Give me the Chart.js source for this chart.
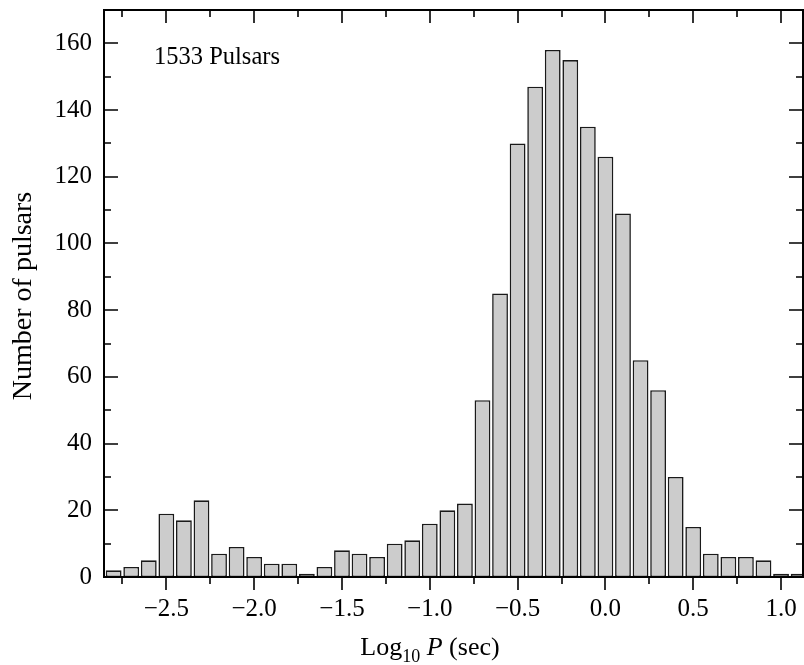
<!DOCTYPE html>
<html>
<head>
<meta charset="utf-8">
<script src="https://cdn.jsdelivr.net/npm/chart.js@4.4.0/dist/chart.umd.min.js"></script>
<style>
  body { margin: 0; background: #fff; }
  canvas { display: block; }
</style>
</head>
<body>
<canvas id="chart" width="804" height="665"></canvas>
<script>
// bin centres of log10 P (bin width 0.1) and the pulsar counts in each bin
const binCentres = [-2.8, -2.7, -2.6, -2.5, -2.4, -2.3, -2.2, -2.1, -2.0, -1.9,
    -1.8, -1.7, -1.6, -1.5, -1.4, -1.3, -1.2, -1.1, -1.0, -0.9,
    -0.8, -0.7, -0.6, -0.5, -0.4, -0.3, -0.2, -0.1, 0.0, 0.1,
    0.2, 0.3, 0.4, 0.5, 0.6, 0.7, 0.8, 0.9, 1.0, 1.1];
const counts = [2, 3, 5, 19, 17, 23, 7, 9, 6, 4,
    4, 1, 3, 8, 7, 6, 10, 11, 16, 20,
    22, 53, 85, 130, 147, 158, 155, 135, 126, 109,
    65, 56, 30, 15, 7, 6, 6, 5, 1, 1];

const xTicks = [-2.5, -2.0, -1.5, -1.0, -0.5, 0.0, 0.5, 1.0];
const xTickLabels = ["\u22122.5", "\u22122.0", "\u22121.5", "\u22121.0", "\u22120.5", "0.0", "0.5", "1.0"];
const xMinorTicks = [-2.75, -2.25, -1.75, -1.25, -0.75, -0.25, 0.25, 0.75];
const yTicks = [0, 20, 40, 60, 80, 100, 120, 140, 160];
const yMinorTicks = [10, 30, 50, 70, 90, 110, 130, 150];

const serif = '"Liberation Serif", "Times New Roman", serif';

// frame, ticks, axis titles and the label in the corner
const decorations = {
    id: "decorations",
    afterDraw(chart) {
        const { ctx, chartArea: a, scales: { x, y } } = chart;
        ctx.save();
        ctx.strokeStyle = "#000";
        ctx.lineWidth = 2;
        ctx.strokeRect(a.left, a.top, a.right - a.left, a.bottom - a.top);

        ctx.lineWidth = 1.6;
        ctx.beginPath();
        // bottom ticks point out of the frame, the others point in
        const xTick = (v, len) => {
            const px = Math.round(x.getPixelForValue(v));
            ctx.moveTo(px, a.bottom); ctx.lineTo(px, a.bottom + len);
            ctx.moveTo(px, a.top); ctx.lineTo(px, a.top + len);
        };
        const yTick = (v, len) => {
            const py = Math.round(y.getPixelForValue(v));
            ctx.moveTo(a.left, py); ctx.lineTo(a.left + len, py);
            ctx.moveTo(a.right, py); ctx.lineTo(a.right - len, py);
        };
        xTicks.forEach(v => xTick(v, 13));
        xMinorTicks.forEach(v => xTick(v, 7));
        yTicks.forEach(v => yTick(v, 14));
        yMinorTicks.forEach(v => yTick(v, 7));
        ctx.stroke();

        ctx.fillStyle = "#000";
        ctx.textBaseline = "middle";
        ctx.textAlign = "left";
        ctx.font = "24.5px " + serif;
        ctx.fillText("1533 Pulsars", x.getPixelForValue(-2.57), y.getPixelForValue(155.8));

        // y title
        ctx.save();
        ctx.translate(24, 296);
        ctx.rotate(-Math.PI / 2);
        ctx.textAlign = "center";
        ctx.font = "28px " + serif;
        ctx.fillText("Number of pulsars", 0, 0);
        ctx.restore();

        // x title: Log10 P (sec), with subscript and italic P
        ctx.textBaseline = "alphabetic";
        const parts = [
            { t: "Log", f: "26px " + serif, dy: 0 },
            { t: "10", f: "18px " + serif, dy: 7 },
            { t: " ", f: "26px " + serif, dy: 0 },
            { t: "P", f: "italic 26px " + serif, dy: 0 },
            { t: " (sec)", f: "26px " + serif, dy: 0 },
        ];
        let total = 0;
        parts.forEach(p => { ctx.font = p.f; p.w = ctx.measureText(p.t).width; total += p.w; });
        let cx = 430 - total / 2;
        parts.forEach(p => {
            ctx.font = p.f;
            ctx.fillText(p.t, cx, 655 + p.dy);
            cx += p.w;
        });
        ctx.restore();
    },
};

const ctx = document.getElementById("chart");
new Chart(ctx, {
    type: "bar",
    data: {
        datasets: [
            {
                label: "Pulsars",
                data: binCentres.map((c, i) => ({ x: c, y: counts[i] })),
                backgroundColor: "#cccccc",
                borderColor: "#1a1a1a",
                borderWidth: 1.6,
                borderSkipped: false,
                barPercentage: 0.9,
                categoryPercentage: 1.0,
            },
        ],
    },
    options: {
        responsive: false,
        animation: false,
        layout: { padding: { top: 10, right: 1, left: 0, bottom: 0 } },
        plugins: {
            legend: { display: false },
            tooltip: { enabled: false },
        },
        scales: {
            x: {
                type: "linear",
                offset: false,
                min: -2.855,
                max: 1.125,
                afterBuildTicks: scale => { scale.ticks = xTicks.map(v => ({ value: v })); },
                afterFit: scale => {
                    scale.height = 88;
                    scale.paddingLeft = 0;
                    scale.paddingRight = 0;
                },
                grid: { display: false, drawTicks: false },
                border: { display: false },
                ticks: {
                    color: "#000",
                    font: { family: serif, size: 25 },
                    padding: 17,
                    maxRotation: 0,
                    autoSkip: false,
                    callback: (v, i) => xTickLabels[i],
                },
            },
            y: {
                min: 0,
                max: 170,
                afterBuildTicks: scale => { scale.ticks = yTicks.map(v => ({ value: v })); },
                afterFit: scale => {
                    scale.width = 104;
                    scale.paddingTop = 0;
                    scale.paddingBottom = 0;
                },
                grid: { display: false, drawTicks: false },
                border: { display: false },
                ticks: {
                    color: "#000",
                    font: { family: serif, size: 25 },
                    padding: 12,
                    autoSkip: false,
                },
            },
        },
    },
    plugins: [decorations],
});
</script>
</body>
</html>
